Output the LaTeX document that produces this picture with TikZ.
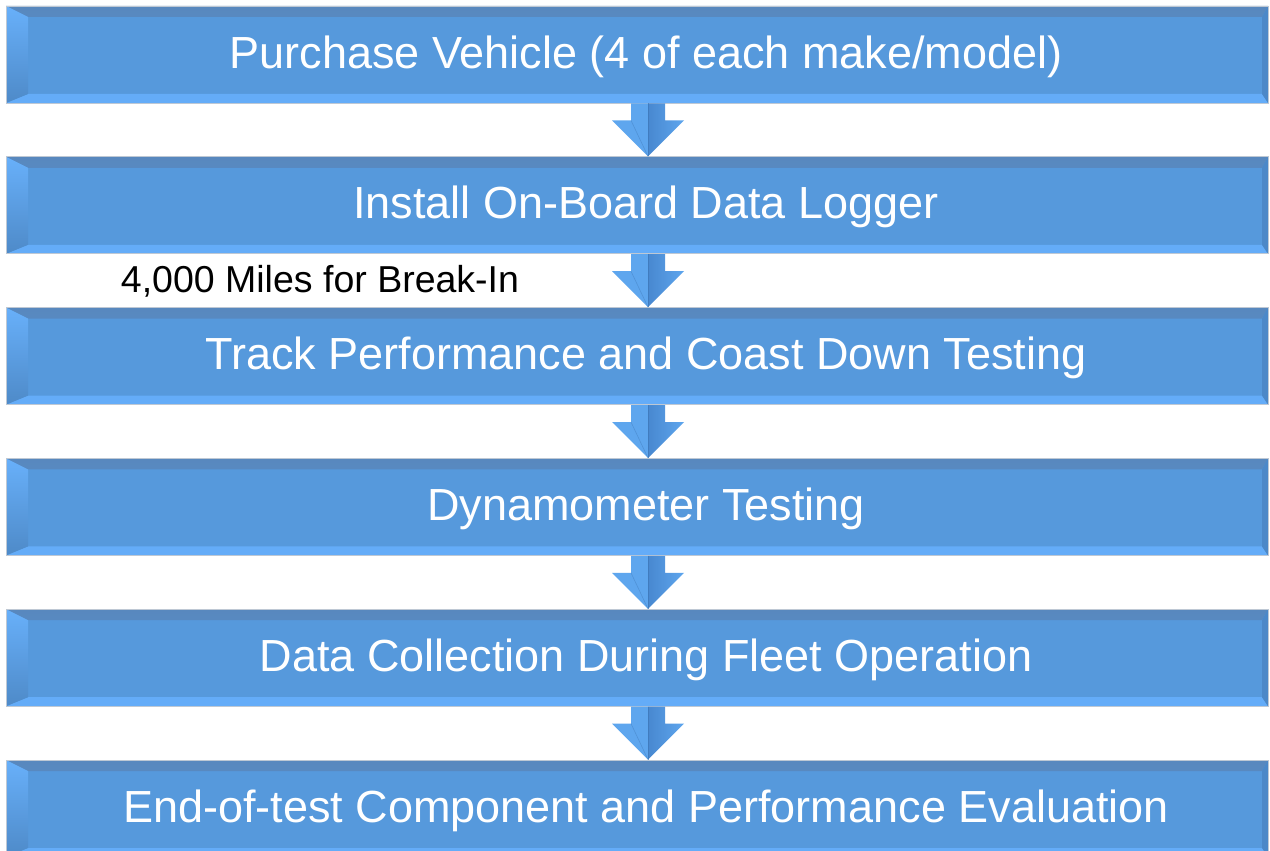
\documentclass[tikz,border=0pt]{standalone}
\usepackage{fontspec}
\setmainfont{Liberation Sans}
\usetikzlibrary{calc}

\definecolor{stepface}{RGB}{86,153,220}
\definecolor{stepedge}{RGB}{190,200,212}
\definecolor{steptopA}{RGB}{88,136,190}
\definecolor{steptopB}{RGB}{86,148,214}
\definecolor{stepbot}{RGB}{100,172,248}
\definecolor{stepleftA}{RGB}{104,176,250}
\definecolor{stepleftB}{RGB}{78,138,200}
\definecolor{stepright}{RGB}{76,136,200}
\definecolor{arrowlight}{RGB}{94,166,238}
\definecolor{arrowdark}{RGB}{72,136,208}
\definecolor{arrowline}{RGB}{60,116,180}

\begin{document}
\begin{tikzpicture}[x=1pt,y=-1pt,
  steptext/.style={text=white, font=\fontsize{45}{54}\selectfont, xshift=9pt, yshift=-2pt},
  stepbox/.style={rectangle, minimum width=1262pt, minimum height=97pt,
    inner sep=0pt, fill=stepface, draw=stepedge, line width=0.8pt,
    label={[steptext]center:#1},
    path picture={
      % top bevel
      \shade[top color=steptopA, bottom color=steptopB]
        let \p1=(path picture bounding box.north west),
            \p2=(path picture bounding box.south east) in
        (\x1,\y1) -- (\x2,\y1) -- (\x2-6pt,\y1-11pt) -- (\x1+22pt,\y1-11pt) -- cycle;
      % bottom bevel
      \fill[stepbot]
        let \p1=(path picture bounding box.north west),
            \p2=(path picture bounding box.south east) in
        (\x1,\y2) -- (\x2,\y2) -- (\x2-6pt,\y2+9pt) -- (\x1+22pt,\y2+9pt) -- cycle;
      % left bevel
      \shade[top color=stepleftA, bottom color=stepleftB]
        let \p1=(path picture bounding box.north west),
            \p2=(path picture bounding box.south east) in
        (\x1,\y1) -- (\x1+22pt,\y1-11pt) -- (\x1+22pt,\y2+9pt) -- (\x1,\y2) -- cycle;
      % right bevel
      \fill[stepright]
        let \p1=(path picture bounding box.north west),
            \p2=(path picture bounding box.south east) in
        (\x2,\y1) -- (\x2,\y2) -- (\x2-6pt,\y2+9pt) -- (\x2-6pt,\y1-11pt) -- cycle;
    }},
  note/.style={text=black, font=\fontsize{37.5}{45}\selectfont, inner sep=0pt}
]
\clip (0,0) rectangle (1270,851);
\fill[white] (0,0) rectangle (1270,851);

% process steps
\node[stepbox={Purchase Vehicle (4 of each make/model)}] (s1) at (637,54.5) {};
\node[stepbox={Install On-Board Data Logger}] (s2) at (637,205.3) {};
\node[stepbox={Track Performance and Coast Down Testing}] (s3) at (637,356.1) {};
\node[stepbox={Dynamometer Testing}] (s4) at (637,506.9) {};
\node[stepbox={Data Collection During Fleet Operation}] (s5) at (637,657.7) {};
\node[stepbox={End-of-test Component and Performance Evaluation}] (s6) at (637,808.5) {};

% break-in note between steps 2 and 3
\node[note] (n1) at (320,281) {4,000 Miles for Break-In};

% block arrows between consecutive steps
\foreach \a/\b in {s1/s2,s2/s3,s3/s4,s4/s5,s5/s6}{
  % left (lit) half
  \fill[arrowlight] let \p1=(\a.south), \p2=(\b.north) in
    (\x1+11pt,\y1) -- (\x1-6pt,\y1) -- (\x1-6pt,\y1-17pt) -- (\x1-25pt,\y1-17pt)
    -- (\x1+11pt,\y2) -- cycle;
  % right (shaded) half
  \shade[left color=arrowdark, right color=arrowlight] let \p1=(\a.south), \p2=(\b.north) in
    (\x1+11pt,\y1) -- (\x1+28pt,\y1) -- (\x1+28pt,\y1-17pt) -- (\x1+47pt,\y1-17pt)
    -- (\x1+11pt,\y2) -- cycle;
  % ridge and fold lines
  \draw[arrowline, line width=0.6pt, opacity=0.6] let \p1=(\a.south), \p2=(\b.north) in
    (\x1+11pt,\y1) -- (\x1+11pt,\y2);
  \draw[arrowline, line width=0.6pt, opacity=0.4] let \p1=(\a.south), \p2=(\b.north) in
    (\x1-6pt,\y1-17pt) -- (\x1+11pt,\y2);
}
\end{tikzpicture}
\end{document}
